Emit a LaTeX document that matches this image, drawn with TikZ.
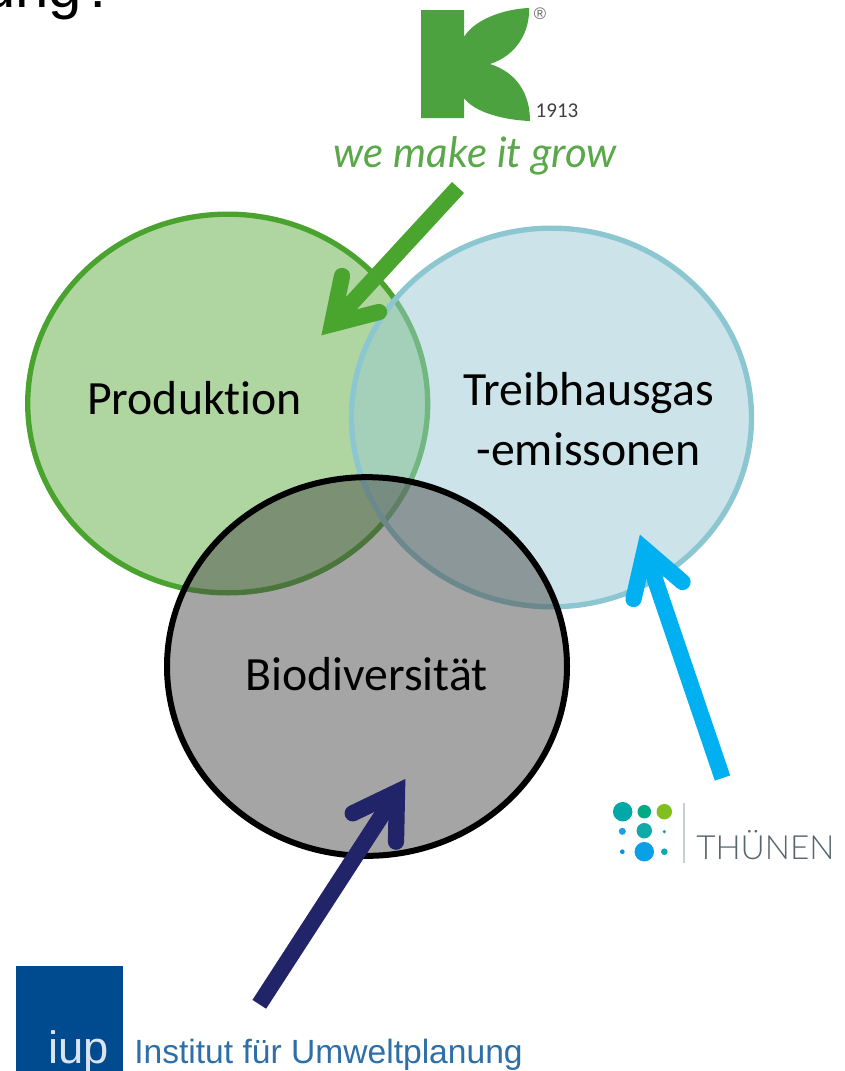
\documentclass[tikz,border=0pt]{standalone}
\usepackage{fontspec}
\setmainfont{Carlito}[Ligatures=NoCommon]
\newfontfamily\arialf{Liberation Sans}
\newfontfamily\latof{Lato Light}
\newfontfamily\latoi{Lato Italic}
\definecolor{gfill}{HTML}{5FAD41}
\definecolor{gline}{HTML}{4AA32E}
\definecolor{bfill}{HTML}{9ACAD4}
\definecolor{bline}{HTML}{8CC6D0}
\definecolor{kfill}{HTML}{4B4B4B}
\definecolor{arG}{HTML}{4AA52E}
\definecolor{arB}{HTML}{00B0F0}
\definecolor{arN}{HTML}{212469}
\definecolor{kgreen}{HTML}{4BA23F}
\definecolor{kgrow}{HTML}{5AA84A}
\definecolor{iupblue}{HTML}{004A8F}
\definecolor{iuptxt}{HTML}{2F6FA8}
\definecolor{thtxt}{HTML}{55666C}
\tikzset{
  venn/.style={ellipse, minimum width=300pt, minimum height=284pt, inner sep=0pt, outer sep=0pt, line width=4pt, fill opacity=.5, draw opacity=1, text opacity=1},
  lbl/.style={font=\fontsize{35.8}{45}\selectfont, text=black, inner sep=0pt, align=center},
  shaft/.style={line width=12.2pt, line cap=butt},
  barbs/.style={line width=12.2pt, line cap=round, line join=miter, miter limit=20},
  dotn/.style={circle, inner sep=0pt},
}
\usetikzlibrary{shapes.geometric}
\begin{document}
\begin{tikzpicture}[x=0.75pt,y=-0.75pt]
\useasboundingbox (0,0) rectangle (844,1071);
\clip (0,0) rectangle (844,1071);
% clipped heading fragment
\node[anchor=base east, inner sep=0pt, font=\arialf\fontsize{45}{50}\selectfont] (head) at (116,7) {ung?};
% circles
\node[venn, draw=gline, fill=gfill] (prod) at (227.7,403.5) {};
\node[venn, draw=bline, fill=bfill] (thg) at (551.5,417.5) {};
\node[venn, draw=black, fill=kfill, line width=4.5pt] (bio) at (367,666.5) {};
\node[lbl] (prodl) at (194.5,398) {Produktion};
\node[lbl] (thgl) at (588.5,419) {Treibhausgas\\-emissonen};
\node[lbl] (biol) at (366.5,674) {Biodiversität};
% K logo
\fill[kgreen] (421,10) -- (464,10) -- (464,37)
  .. controls (474,20) and (503,9) .. (529,8)
  .. controls (530,30) and (518,55) .. (490,64)
  .. controls (518,73) and (530,95) .. (530,121)
  .. controls (503,120) and (474,112) .. (464,98)
  -- (464,118) -- (421,118) -- cycle;
\node[inner sep=0pt, font=\arialf\fontsize{12.5}{14}\selectfont, text=black!60] (reg) at (540,14) {®};
\node[inner sep=0pt, font=\fontsize{15.8}{18}\selectfont, text=black!75] (year) at (557,111) {1913};
\node[anchor=base, inner sep=0pt, font=\latoi\fontsize{31.5}{36}\selectfont, text=kgrow] (grow) at (475.5,167) {we make it grow};
% Thuenen logo
\node[dotn, minimum size=14.6pt, fill={rgb,255:red,0;green,169;blue,168}] (t1) at (622.7,811.7) {};
\node[dotn, minimum size=10.2pt, fill={rgb,255:red,0;green,171;blue,132}] (t2) at (644.3,811.7) {};
\node[dotn, minimum size=11.6pt, fill={rgb,255:red,127;green,191;blue,31}] (t3) at (664.3,811.7) {};
\node[dotn, minimum size=5.3pt, fill={rgb,255:red,29;green,161;blue,224}] (t4) at (622.3,831.3) {};
\node[dotn, minimum size=11.6pt, fill={rgb,255:red,18;green,170;blue,168}] (t5) at (644.3,830.7) {};
\node[dotn, minimum size=2.7pt, fill={rgb,255:red,18;green,170;blue,160}] (t6) at (664.3,831.7) {};
\node[dotn, minimum size=3.5pt, fill={rgb,255:red,13;green,143;blue,216}] (t7) at (622.3,851.7) {};
\node[dotn, minimum size=14.6pt, fill={rgb,255:red,10;green,160;blue,230}] (t8) at (644.3,851.7) {};
\node[dotn, minimum size=5pt, fill={rgb,255:red,16;green,170;blue,168}] (t9) at (664.3,851.7) {};
\draw[line width=1.2pt, color={rgb,255:red,200;green,208;blue,208}] (684,803) -- (684,863);
\node[anchor=base west, inner sep=0pt, font=\latof\fontsize{25}{30}\selectfont, text=thtxt] (then) at (696,859) {THÜNEN};
% iup logo
\fill[iupblue] (16,965.5) rectangle (122.7,1071);
\node[anchor=base west, inner sep=0pt, font=\arialf\fontsize{34}{40}\selectfont, text=white!85!iupblue] (iup) at (48,1063) {iup};
\node[anchor=base west, inner sep=0pt, font=\arialf\fontsize{25.2}{30}\selectfont, text=iuptxt] (inst) at (134,1063) {Institut für Umweltplanung};
% arrows
\coordinate (gs) at (458,187.5); \coordinate (gv) at (332,324.2);
\coordinate (ga) at (342,276); \coordinate (gb) at (379,312);
\draw[shaft, arG] (gs) -- (gv);
\draw[barbs, arG] (ga) -- (gv) -- (gb);
\coordinate (bs) at (722.5,778); \coordinate (bv) at (644.8,549.5);
\coordinate (ba) at (633.5,599); \coordinate (bb) at (682.5,582);
\draw[shaft, arB] (bs) -- (bv);
\draw[barbs, arB] (ba) -- (bv) -- (bb);
\coordinate (ns) at (259.3,1004.3); \coordinate (nv) at (397,792);
\coordinate (na) at (352.7,813.3); \coordinate (nb) at (396,841.7);
\draw[shaft, arN] (ns) -- (nv);
\draw[barbs, arN] (na) -- (nv) -- (nb);
\end{tikzpicture}
\end{document}
